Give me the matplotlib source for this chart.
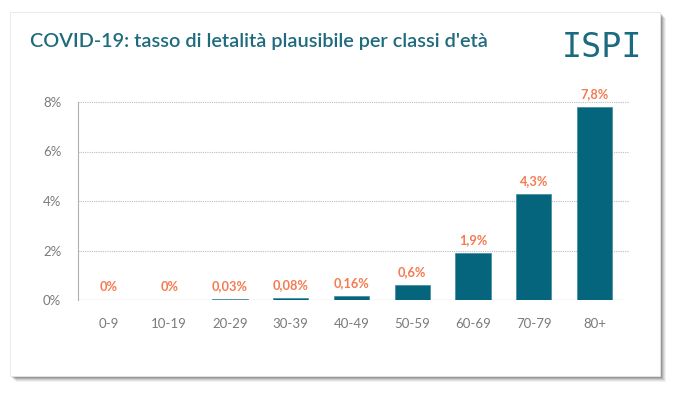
import matplotlib.pyplot as plt
from matplotlib.patches import Rectangle

plt.rcParams['font.family'] = ['Lato', 'DejaVu Sans']

age_groups = ["0-9", "10-19", "20-29", "30-39", "40-49", "50-59", "60-69", "70-79", "80+"]
fatality = [0.0, 0.0, 0.03, 0.08, 0.16, 0.6, 1.9, 4.3, 7.8]
value_labels = ["0%", "0%", "0,03%", "0,08%", "0,16%", "0,6%", "1,9%", "4,3%", "7,8%"]
y_ticks = [0, 2, 4, 6, 8]
y_tick_labels = ["0%", "2%", "4%", "6%", "8%"]

TEAL = "#04657d"
TITLE = "#1d6b7d"
ORANGE = "#f47a50"
GREY = "#7a7a7a"

W, H = 678, 394
fig = plt.figure(figsize=(W / 100, H / 100), dpi=100)
fig.patch.set_facecolor("white")

# card with soft shadow
cx0, cy0, cx1, cy1 = 10, 12, 660, 376
for i, a in enumerate([0.05, 0.07, 0.09, 0.12, 0.16]):
    off = 6 - i
    fig.patches.append(Rectangle(((cx0 + off) / W, 1 - (cy1 + off) / H),
                                 (cx1 - cx0) / W, (cy1 - cy0) / H,
                                 transform=fig.transFigure, facecolor="black",
                                 alpha=a, edgecolor="none", zorder=0))
fig.patches.append(Rectangle((cx0 / W, 1 - cy1 / H), (cx1 - cx0) / W, (cy1 - cy0) / H,
                             transform=fig.transFigure, facecolor="white",
                             edgecolor="#e6e6e6", linewidth=0.6, zorder=1))

fig.text(30 / W, 1 - 47 / H, "COVID-19: tasso di letalità plausibile per classi d'età",
         fontsize=14.3, color=TITLE, ha="left", va="baseline", fontweight="semibold",
         zorder=3)
fig.text(642 / W, 1 - 57 / H, "ISPI", fontsize=24, color="#1a6a80", ha="right",
         va="baseline", family=["DejaVu Sans Mono"], fontweight="light", zorder=3)

ax = fig.add_axes([78 / W, 1 - 300 / H, (625 - 78) / W, (300 - 102) / H])
ax.set_zorder(2)
ax.patch.set_alpha(0)

x = range(len(age_groups))
bars = ax.bar(x, fatality, width=0.58, color=TEAL, edgecolor="#3e8a9c",
              linewidth=0.5, zorder=3)

for i, (v, lab) in enumerate(zip(fatality, value_labels)):
    ax.annotate(lab, (i, v), xytext=(0, 5), textcoords="offset points",
                ha="center", va="bottom", color=ORANGE, fontsize=9.2,
                fontweight="bold")

ax.set_xlim(-0.5, len(age_groups) - 0.5)
ax.set_ylim(0, 8)
ax.set_xticks(list(x))
ax.set_xticklabels(age_groups, color=GREY, fontsize=9.5)
ax.set_yticks(y_ticks)
ax.set_yticklabels(y_tick_labels, color=GREY, fontsize=9.5)
ax.tick_params(axis="both", length=0)
ax.tick_params(axis="x", pad=13)
ax.tick_params(axis="y", pad=12)

for s in ["top", "right", "bottom"]:
    ax.spines[s].set_visible(False)
ax.spines["left"].set_color("#b0b0b0")
ax.spines["left"].set_linewidth(0.8)
ax.axhline(0, color="#d8d8d8", linewidth=1.0, zorder=2)
for t in y_ticks[1:]:
    ax.axhline(t, xmax=1.005, color="#bcbcbc", linewidth=0.8, linestyle=(0, (1, 1)),
               zorder=1, clip_on=False)

fig.savefig("out.png", dpi=100, facecolor="white")
